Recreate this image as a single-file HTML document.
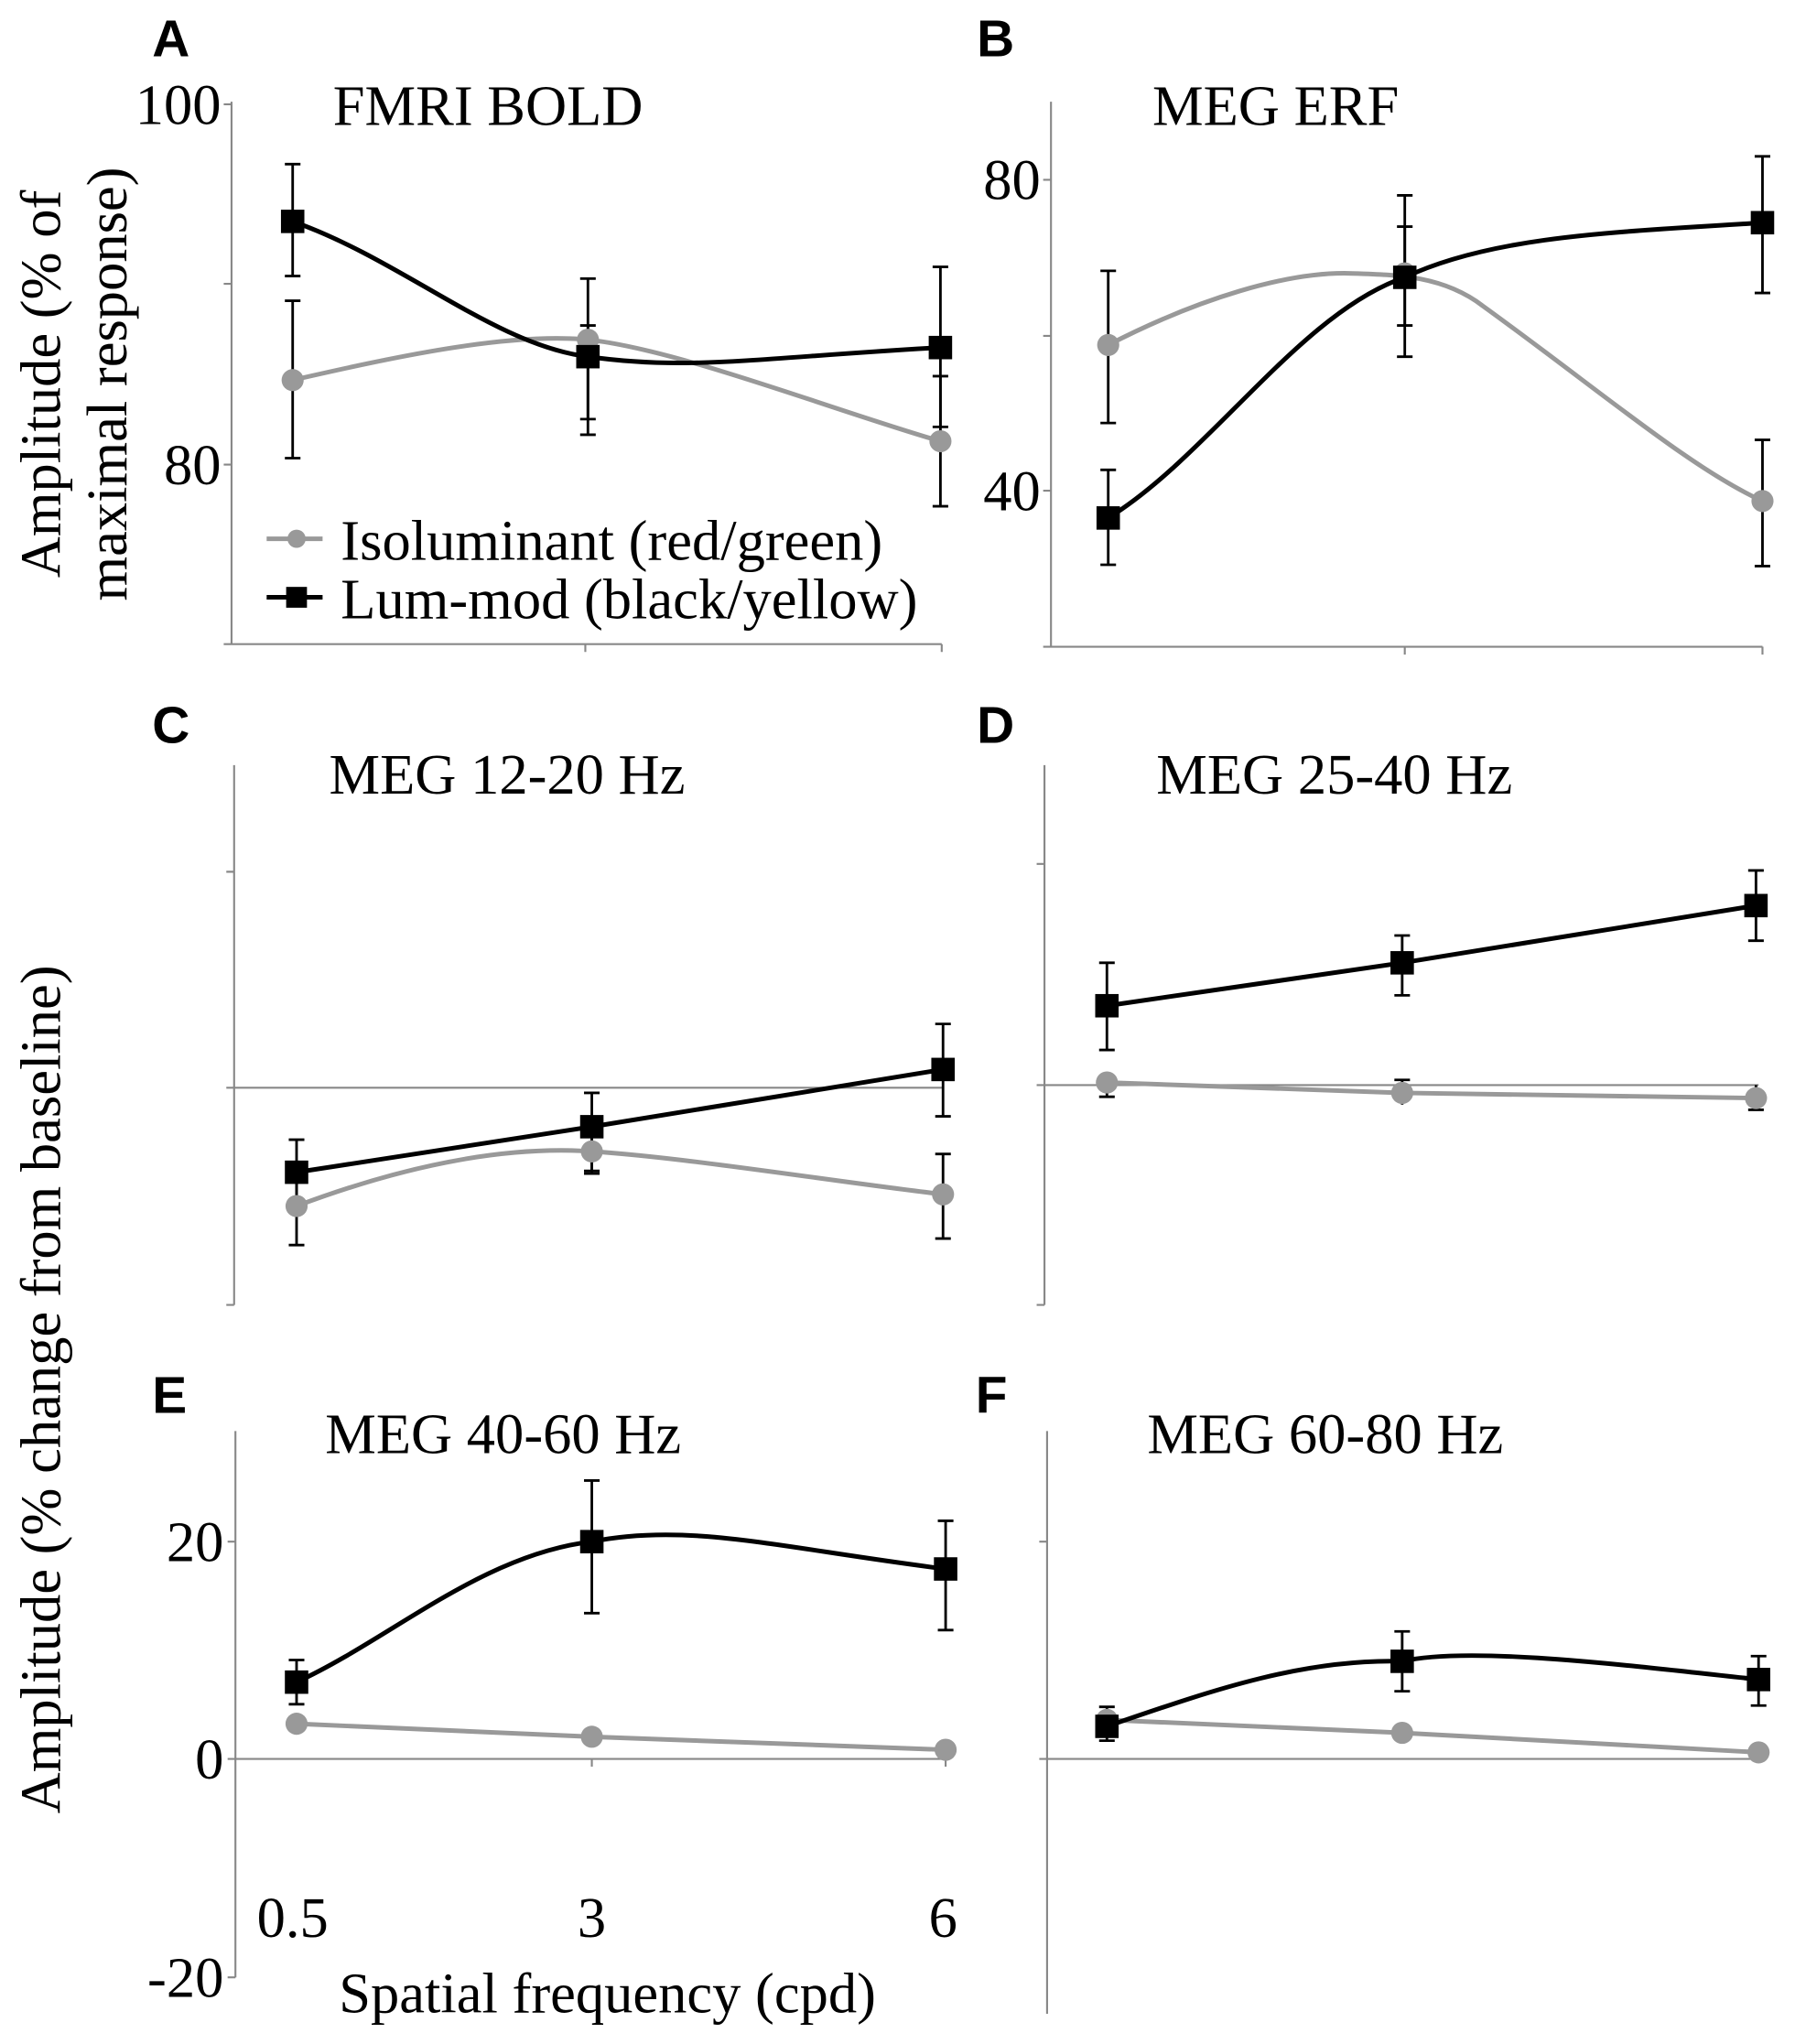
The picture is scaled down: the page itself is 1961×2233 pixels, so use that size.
<!DOCTYPE html>
<html><head><meta charset="utf-8"><style>html,body{margin:0;padding:0;background:#fff}svg{display:block}</style></head>
<body>
<svg width="1961" height="2233" viewBox="0 0 1380 1571" xmlns="http://www.w3.org/2000/svg" font-family="'Liberation Serif', serif">
<rect width="1380" height="1571" fill="#fff"/>
<g font-family="'Liberation Sans', sans-serif" font-weight="bold" font-size="40">
<text x="117" y="43">A</text><text x="751" y="43">B</text>
<text x="117" y="571">C</text><text x="751" y="571">D</text>
<text x="117" y="1086">E</text><text x="750" y="1086">F</text>
</g>
<g font-size="44" fill="#000">
<text x="256" y="96">FMRI BOLD</text>
<text x="886" y="96">MEG ERF</text>
<text x="253" y="610">MEG 12-20 Hz</text>
<text x="889" y="610">MEG 25-40 Hz</text>
<text x="250" y="1117">MEG 40-60 Hz</text>
<text x="882" y="1117">MEG 60-80 Hz</text>
</g>
<g font-size="44" text-anchor="middle">
<text transform="translate(46,295) rotate(-90)">Amplitude (% of</text>
<text transform="translate(97,295) rotate(-90)">maximal response)</text>
<text transform="translate(46,1068) rotate(-90)">Amplitude (% change from baseline)</text>
</g>
<g font-size="44" text-anchor="end">
<text x="170" y="95">100</text><text x="170" y="372">80</text>
<text x="800" y="153">80</text><text x="800" y="392">40</text>
<text x="172" y="1200">20</text><text x="172" y="1367">0</text><text x="172" y="1535">-20</text>
</g>
<g font-size="44" text-anchor="middle">
<text x="225" y="1489">0.5</text><text x="455" y="1489">3</text><text x="725" y="1489">6</text>
<text x="467" y="1547">Spatial frequency (cpd)</text>
</g>
<!-- axes -->
<g stroke="#888" stroke-width="1.5" fill="none">
<path d="M178 78V495M172 80H178M172 218H178M172 357H178M172 495H724M450 495v6M724 495v6"/>
<path d="M808 78V497M802 138H808M802 258H808M802 377H808M802 497H1355M1080 497v6M1355 497v6"/>
<path d="M180 588V1003M174 670H180M174 836H725M174 1003H180"/>
<path d="M803 588V1003M797 664H803M797 834H1352M797 1003H803"/>
<path d="M181 1100V1520M175 1185H181M175 1352H727M175 1520H181M455 1352v6M727 1352v6"/>
<path d="M805 1100V1548M799 1185H805M799 1352H1355"/>
</g>
<!-- error bars -->
<g stroke="#000" stroke-width="2" fill="none">
<path d="M225 126V212M219 126h12M219 212h12 M452 214V334M446 214h12M446 334h12 M723 205V328M717 205h12M717 328h12"/>
<path d="M225 231V352M219 231h12M219 352h12 M452 250V322M446 250h12M446 322h12 M723 289V389M717 289h12M717 389h12"/>
<path d="M852 208V325M846 208h12M846 325h12 M1080 174V250M1074 174h12M1074 250h12 M1355 338V435M1349 338h12M1349 435h12"/>
<path d="M852 361V434M846 361h12M846 434h12 M1080 150V274M1074 150h12M1074 274h12 M1355 120V225M1349 120h12M1349 225h12"/>
<path d="M228 876V926M222 876h12M222 926h12 M455 840V900M449 840h12M449 900h12 M725 787V858M719 787h12M719 858h12"/>
<path d="M228 900V957M222 957h12 M455 870V902M449 902h12 M725 887V952M719 887h12M719 952h12"/>
<path d="M851 740V807M845 740h12M845 807h12 M1078 719V765M1072 719h12M1072 765h12 M1350 669V723M1344 669h12M1344 723h12"/>
<path d="M851 825V843M845 843h12 M1078 830V849M1072 830h12 M1350 834V853M1344 853h12"/>
<path d="M228 1276V1310M222 1276h12M222 1310h12 M455 1138V1240M449 1138h12M449 1240h12 M727 1169V1253M721 1169h12M721 1253h12"/>
<path d="M851 1312V1338M845 1312h12M845 1338h12 M1078 1254V1300M1072 1254h12M1072 1300h12 M1352 1273V1311M1346 1273h12M1346 1311h12"/>
</g>
<!-- gray series -->
<g stroke="#999" stroke-width="3.5" fill="none">
<path d="M225 292C300 275 390 255 452 261C520 268 640 315 723 339"/>
<path d="M852 265C920 230 990 208 1040 210C1075 211 1110 212 1140 235C1230 300 1300 360 1355 385"/>
<path d="M228 927C300 900 380 880 455 885C530 890 640 908 725 918"/>
<path d="M851 832L1078 840L1350 844"/>
<path d="M228 1325L455 1335L727 1345"/>
<path d="M851 1322L1078 1332L1352 1347"/>
</g>
<path d="M205 414H248" stroke="#999" stroke-width="3.5"/>
<circle cx="228" cy="414" r="7" fill="#999"/>
<path d="M205 459H248" stroke="#000" stroke-width="3.5"/>
<rect x="220" y="451" width="16" height="16" fill="#000"/>
<g font-size="44"><text x="262" y="430">Isoluminant (red/green)</text><text x="262" y="475">Lum-mod (black/yellow)</text></g>
<g fill="#999">
<circle cx="225" cy="292" r="8.5"/><circle cx="452" cy="261" r="8.5"/><circle cx="723" cy="339" r="8.5"/>
<circle cx="852" cy="265" r="8.5"/><circle cx="1080" cy="210" r="8.5"/><circle cx="1355" cy="385" r="8.5"/>
<circle cx="228" cy="927" r="8.5"/><circle cx="455" cy="885" r="8.5"/><circle cx="725" cy="918" r="8.5"/>
<circle cx="851" cy="832" r="8.5"/><circle cx="1078" cy="840" r="8.5"/><circle cx="1350" cy="844" r="8.5"/>
<circle cx="228" cy="1325" r="8.5"/><circle cx="455" cy="1335" r="8.5"/><circle cx="727" cy="1345" r="8.5"/>
<circle cx="851" cy="1322" r="8.5"/><circle cx="1078" cy="1332" r="8.5"/><circle cx="1352" cy="1347" r="8.5"/>
</g>
<!-- black series -->
<g stroke="#000" stroke-width="3.5" fill="none">
<path d="M225 170C310 200 380 265 452 274C530 285 580 275 723 267"/>
<path d="M852 398C930 350 1000 240 1080 213C1150 180 1250 178 1355 171"/>
<path d="M228 901L455 866L725 822"/>
<path d="M851 773L1078 740L1350 696"/>
<path d="M228 1293C300 1260 370 1195 455 1185C530 1170 600 1190 727 1206"/>
<path d="M851 1327C930 1300 1000 1275 1078 1277C1130 1265 1250 1280 1352 1291"/>
</g>
<g fill="#000">
<rect x="216" y="161" width="18" height="18"/><rect x="443" y="265" width="18" height="18"/><rect x="714" y="258" width="18" height="18"/>
<rect x="843" y="389" width="18" height="18"/><rect x="1071" y="204" width="18" height="18"/><rect x="1346" y="162" width="18" height="18"/>
<rect x="219" y="892" width="18" height="18"/><rect x="446" y="857" width="18" height="18"/><rect x="716" y="813" width="18" height="18"/>
<rect x="842" y="764" width="18" height="18"/><rect x="1069" y="731" width="18" height="18"/><rect x="1341" y="687" width="18" height="18"/>
<rect x="219" y="1284" width="18" height="18"/><rect x="446" y="1176" width="18" height="18"/><rect x="718" y="1197" width="18" height="18"/>
<rect x="842" y="1318" width="18" height="18"/><rect x="1069" y="1268" width="18" height="18"/><rect x="1343" y="1282" width="18" height="18"/>
</g>
</svg>
</body></html>
